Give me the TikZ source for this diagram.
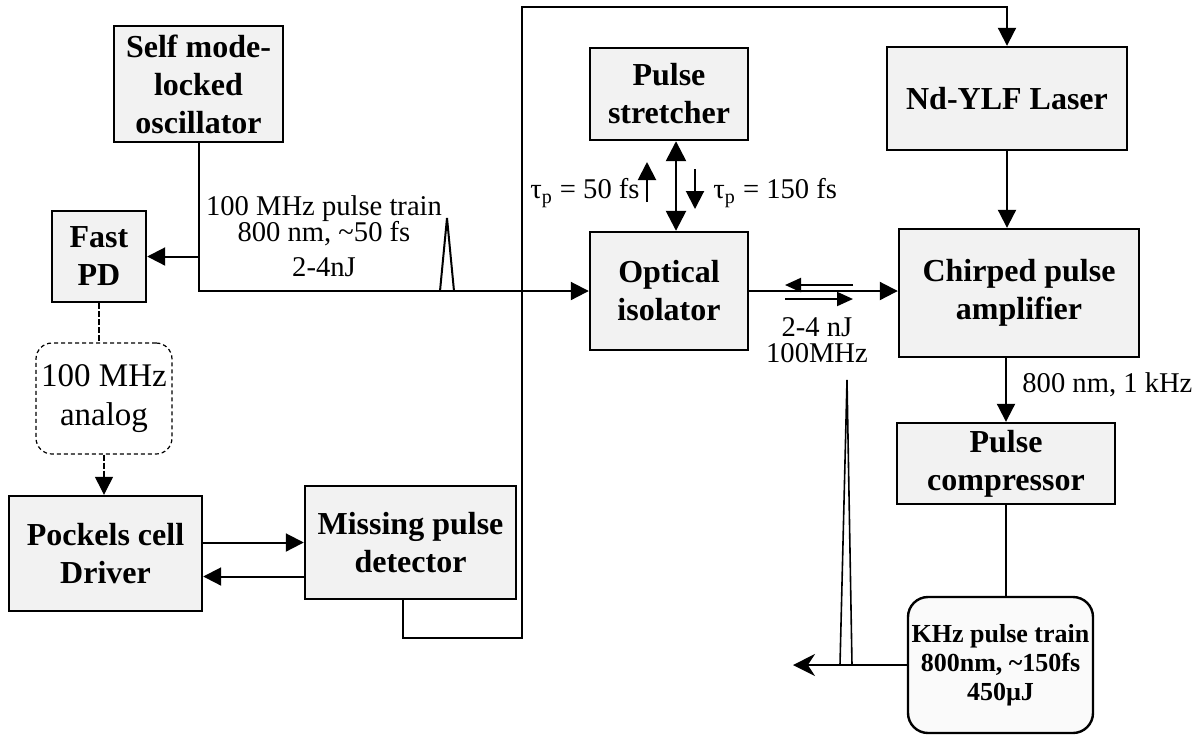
\documentclass[tikz,border=0pt]{standalone}
\usepackage{fontspec}
\setmainfont{Liberation Serif}
\usepackage{tikz}
\usetikzlibrary{arrows.meta}

\begin{document}
\begin{tikzpicture}[x=0.5pt, y=-0.5pt,
    box/.style={draw, line width=1.2pt, fill=black!5, align=center, inner sep=0pt,
      font=\bfseries\fontsize{16}{19}\selectfont},
    lbl/.style={align=center, inner sep=0pt, font=\fontsize{14.3}{13.2}\selectfont},
    arr/.style={-{Triangle[length=9pt,width=9pt]}},
    beam/.style={line width=1pt}]
  \useasboundingbox (0,0) rectangle (1200,736);
  \node[box, minimum width=84.5pt, minimum height=58pt] (osc) at (198.5,84) {Self mode-\\locked\\oscillator};
  \node[box, minimum width=47pt, minimum height=45.5pt] (fastpd) at (99,256.5) {Fast\\PD};
  \node[box, dash pattern=on 2pt off 1.5pt, line width=0.6pt, rounded corners=8pt, fill=white,
    font=\fontsize{16.5}{19.5}\selectfont, minimum width=68pt, minimum height=55.5pt] (analog) at (104,398.5) {100 MHz\\analog};
  \node[box, minimum width=96.5pt, minimum height=57.5pt] (pockels) at (105.5,553.5) {Pockels cell\\Driver};
  \node[box, minimum width=105.5pt, minimum height=56.5pt] (missing) at (410.5,542.5) {Missing pulse\\detector};
  \node[box, minimum width=79pt, minimum height=46pt] (stretcher) at (669,94) {Pulse\\stretcher};
  \node[box, minimum width=79pt, minimum height=59pt] (isolator) at (669,291) {Optical\\isolator};
  \node[box, minimum width=120pt, minimum height=51.5pt] (ndylf) at (1007,98.5) {Nd-YLF Laser};
  \node[box, minimum width=120pt, minimum height=64pt] (cpa) at (1019,293) {Chirped pulse\\amplifier};
  \node[box, minimum width=109pt, minimum height=40.5pt] (comp) at (1006,463.5) {Pulse\\compressor};
  \node[box, rounded corners=10pt, fill=black!2, font=\bfseries\fontsize{13}{14.5}\selectfont,
    minimum width=92.5pt, minimum height=68pt] (khz) at (1000.5,665) {KHz pulse train\\800nm, \textasciitilde150fs\\450µJ};

  \node[lbl] (train) at (324,236) {100 MHz pulse train\\800 nm, \textasciitilde50 fs\\[4pt]2-4nJ};
  \node[lbl, anchor=east] (tauin) at (640,193) {τ\textsubscript{p} = 50 fs};
  \node[lbl, anchor=west] (tauout) at (713,193) {τ\textsubscript{p} = 150 fs};
  \node[lbl] (rep) at (817,340) {2-4 nJ\\100MHz};
  \node[lbl, anchor=west] (rate) at (1022,385) {800 nm, 1 kHz};

  \coordinate (loop) at (522,638);
  \coordinate (top) at (522,7);
  \coordinate (out) at (793,665);

  \draw[beam, arr] (osc.south) |- (isolator.west);
  \draw[beam, arr] (osc.south |- fastpd.east) -- (fastpd.east);
  \draw[beam] (440,291) -- (447,218) -- (454,291);
  \draw[line width=0.6pt, dash pattern=on 3pt off 1pt] (fastpd.south) -- (fastpd.south |- analog.north);
  \draw[line width=0.6pt, dash pattern=on 3pt off 1pt, arr] (analog.south) -- (analog.south |- pockels.north);
  \draw[beam, arr] (pockels.east |- missing.west) -- (missing.west);
  \draw[beam, arr] ([yshift=-17pt]missing.west) -- ([yshift=-17pt]missing.west -| pockels.east);
  \draw[beam, arr] ([xshift=-4pt]missing.south) |- (loop) -- (top) -| (ndylf.north);
  \draw[line width=1.3pt, {Triangle[length=10pt,width=10pt]}-{Triangle[length=10pt,width=10pt]}]
    ([xshift=3.5pt]stretcher.south) -- ([xshift=3.5pt]isolator.north);
  \draw[beam, arr] (647,202) -- (647,162);
  \draw[beam, arr] (695,169) -- (695,209);
  \draw[beam, arr] (isolator.east) -- (isolator.east -| cpa.west);
  \draw[beam, -{Triangle[length=8pt,width=7pt]}] (853,285) -- (785,285);
  \draw[beam, -{Triangle[length=8pt,width=7pt]}] (785,299) -- (853,299);
  \draw[beam, arr] (ndylf.south) -- (ndylf.south |- cpa.north);
  \draw[beam, arr] (cpa.south -| comp.north) -- (comp.north);
  \draw[beam] (comp.south) -- (comp.south |- khz.north);
  \draw[beam, -{Stealth[length=11pt,width=11pt]}] (khz.west) -- (out);
  \draw[line width=0.8pt] (840,665) -- (847,380) -- (852,665);
\end{tikzpicture}
\end{document}
